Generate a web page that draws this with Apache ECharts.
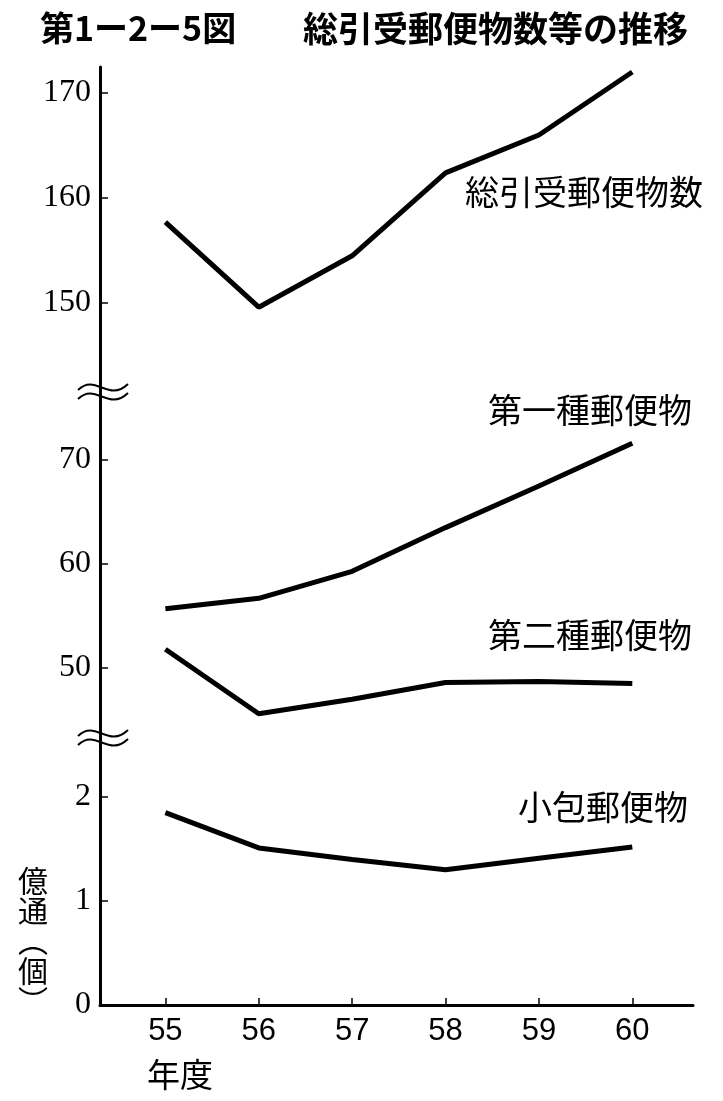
<!DOCTYPE html>
<html><head><meta charset="utf-8">
<script src="https://cdn.jsdelivr.net/npm/echarts@6/dist/echarts.min.js"></script>
<style>html,body{margin:0;padding:0;background:#fff}#c{width:723px;height:1101px}</style>
</head><body><div id="c"></div>
<script>
const years = [55, 56, 57, 58, 59, 60];
const totalMail = [157.7, 149.6, 154.5, 162.4, 166.0, 172.0];
const firstClass = [55.7, 56.7, 59.3, 63.5, 67.5, 71.6];
const secondClass = [51.8, 45.6, 47.0, 48.6, 48.7, 48.5];
const parcel = [1.85, 1.51, 1.40, 1.30, 1.41, 1.52];
const topTicks = [150, 160, 170];
const midTicks = [50, 60, 70];
const lowTicks = [0, 1, 2];
const seriesNames = ['総引受郵便物数', '第一種郵便物', '第二種郵便物', '小包郵便物'];
const titleNumber = '第1ー2ー5図';
const titleText = '総引受郵便物数等の推移';
const unitText = '億\n通\n︵\n個\n︶';
const xName = '年度';

const CJK = '"Noto Sans CJK JP", "Noto Sans CJK SC", sans-serif';
const SERIF = '"Liberation Serif", "DejaVu Serif", serif';
const NARROW = '"Liberation Sans Narrow", "Liberation Sans", sans-serif';

const chart = echarts.init(document.getElementById('c'), null, {renderer: 'canvas'});

const L = 100, R = 30;
const grids = [
  {left: L, right: R, top: 67, height: 326},
  {left: L, right: R, top: 393, height: 347},
  {left: L, right: R, top: 740, height: 265}
];
const yRanges = [
  {min: 141.43, max: 172.48, ticks: topTicks},
  {min: 43.08, max: 76.44, ticks: midTicks},
  {min: 0, max: 2.548, ticks: lowTicks}
];

const xAxes = grids.map((g, i) => ({
  type: 'value', gridIndex: i, min: 54.3, max: 60.65,
  splitLine: {show: false},
  axisLine: {show: i === 2, onZero: false, lineStyle: {color: '#000', width: 3}},
  axisTick: {show: i === 2, inside: true, length: 7, customValues: years, lineStyle: {color: '#000', width: 1.5}},
  axisLabel: {show: i === 2, customValues: years, formatter: v => String(v), color: '#000',
    fontFamily: NARROW, fontSize: 31, margin: 11}
}));

const yAxes = yRanges.map((r, i) => ({
  type: 'value', gridIndex: i, min: r.min, max: r.max,
  splitLine: {show: false},
  axisLine: {show: true, lineStyle: {color: '#000', width: 3}},
  axisTick: {show: true, inside: true, length: 8, customValues: r.ticks, lineStyle: {color: '#000', width: 1.5}},
  axisLabel: {show: true, customValues: r.ticks, color: '#000', fontFamily: SERIF, fontSize: 32, margin: 9,
    verticalAlign: 'middle'}
}));

const datasets = [totalMail, firstClass, secondClass, parcel];
const gridOf = [0, 1, 1, 2];
const series = datasets.map((arr, k) => ({
  type: 'line', name: seriesNames[k], xAxisIndex: gridOf[k], yAxisIndex: gridOf[k],
  data: years.map((y, i) => [y, arr[i]]),
  symbol: 'none', lineStyle: {color: '#000', width: 5}, silent: true, animation: false
}));

function wave(y) {
  return [0, 9].map(d => ({
    type: 'bezierCurve', z: 100,
    shape: {x1: 78, y1: y + d + 3, cpx1: 96, cpy1: y + d - 14, cpx2: 108, cpy2: y + d + 16, x2: 128, y2: y + d - 3},
    style: {stroke: '#000', lineWidth: 2, fill: null}
  }));
}

const labelPos = [[465, 175], [488, 393], [488, 618], [518, 790]];
const graphic = [
  {type: 'text', x: 40, y: 11, style: {text: titleNumber, font: 'bold 34px ' + CJK, fill: '#000'}},
  {type: 'text', x: 303, y: 11, style: {text: titleText, font: 'bold 35px ' + CJK, fill: '#000'}},
  ...seriesNames.map((n, k) => ({type: 'text', x: labelPos[k][0], y: labelPos[k][1],
    style: {text: n, font: '34px ' + CJK, fill: '#000'}})),
  {type: 'text', x: 147, y: 1058, style: {text: xName, font: '33px ' + CJK, fill: '#000'}},
  {type: 'text', x: 18, y: 866, style: {text: unitText, font: '30px ' + CJK, fill: '#000', lineHeight: 30, align: 'left'}},
  ...wave(387),
  ...wave(733)
];

chart.setOption({
  animation: false,
  backgroundColor: '#fff',
  grid: grids,
  xAxis: xAxes,
  yAxis: yAxes,
  series: series,
  graphic: graphic
});
</script></body></html>
